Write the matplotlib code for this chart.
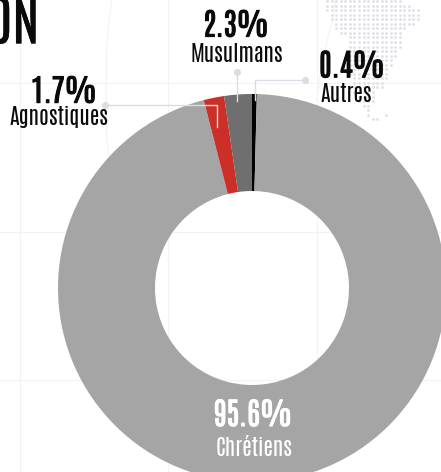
import matplotlib
matplotlib.use("Agg")
import matplotlib.pyplot as plt
import matplotlib.patheffects as pe
import numpy as np

# parts de chaque religion, sens horaire depuis le haut
labels = ["Autres", "Chrétiens", "Agnostiques", "Musulmans"]
values = [0.4, 95.6, 1.7, 2.3]
colors = ["#000000", "#a5a5a5", "#cc2e28", "#6f6f6f"]
pct_text = ["0.4%", "95.6%", "1.7%", "2.3%"]

# carte en points: (premiere colonne, derniere colonne) pour chaque rangee
map_rows = [(0, 16), (0, 18), (0, 20), (1, 20), (1, 20), (2, 19), (2, 17), (3, 16),
            (5, 16), (5, 16), (5, 16), (5, 15), (5, 15), (5, 14), (5, 14), (5, 13),
            (5, 13), (6, 13), (6, 12), (6, 12), (6, 10), (7, 10), (7, 10), (8, 9),
            (9, 9), (9, 9), (10, 11)]
map_extra = [(25, 13)]

FONT = ["Antonio", "Liberation Sans Narrow", "DejaVu Sans"]
LINE = "#dcdce4"
FAINT = "#f3f3f6"

fig = plt.figure(figsize=(4.41, 4.72), dpi=100)
ax = fig.add_axes([0, 0, 1, 1])

# grille du fond
for x in [19.5, 168, 317]:
    ax.plot([x, x], [0, 472], color=FAINT, lw=0.8, zorder=0)
for y in [83, 232, 380]:
    ax.plot([0, 441], [y, y], color=FAINT, lw=0.8, zorder=0)
ax.plot([112, 108.5, 106.7, 106, 106.5, 110], [0, 25, 50, 100, 135, 167], color=FAINT, lw=0.8, zorder=0)
ax.plot([336, 333, 325, 320, 317], [0, 17, 50, 77, 100], color=FAINT, lw=0.8, zorder=0)

# points de la carte
dots_x = []
dots_y = []
for i, (a, b) in enumerate(map_rows):
    for k in range(a, b + 1):
        dots_x.append(327.3 + 4.53 * k)
        dots_y.append(1 + 4.55 * i)
for i, k in map_extra:
    dots_x.append(327.3 + 4.53 * k)
    dots_y.append(1 + 4.55 * i)
ax.scatter(dots_x, dots_y, s=4.2, color="#e0e0e7", linewidths=0, zorder=1)

# axe y inverse: 270 + sens direct donne le sens horaire a l'ecran
ax.pie(values, colors=colors, center=(252, 288), radius=194, startangle=270,
       counterclock=True, wedgeprops=dict(width=97, zorder=2))
ax.set_xlim(0, 441)
ax.set_ylim(472, 0)
ax.axis("off")

# traits de rappel
ax.plot([104.5, 216.5, 216.5], [105, 105, 127], color=LINE, lw=1.0, zorder=3)
ax.plot([236.7, 236.7], [72, 101], color=LINE, lw=1.0, zorder=3)
ax.plot([305, 255, 255], [79.5, 79.5, 100], color=LINE, lw=1.0, zorder=3)
ax.scatter([104.5, 236.7, 305], [105, 72, 79.5], s=26, color=LINE, linewidths=0, zorder=3)


def thick(color, w):
    # la police installee est trop fine, on epaissit avec un contour
    return [pe.withStroke(linewidth=w, foreground=color)]


# titre coupe
ax.text(39, 43.3, "ON", family=FONT, fontsize=39, ha="right", va="baseline", color="#0a0a0a", zorder=4,
        path_effects=thick("#0a0a0a", 0.3))

pct_pos = [(352, 77.3), (253, 426), (64, 102.7), (236, 36.6)]
lab_pos = [(346, 102), (254, 456), (59, 125.5), (236.7, 61.7)]
for i in range(4):
    c = "white" if labels[i] == "Chrétiens" else "#0a0a0a"
    ax.text(pct_pos[i][0], pct_pos[i][1], pct_text[i], family=FONT, fontsize=22,
            ha="center", va="baseline", color=c, zorder=4, path_effects=thick(c, 0.75))
    ax.text(lab_pos[i][0], lab_pos[i][1], labels[i], family=FONT, fontsize=15.8,
            ha="center", va="baseline", color=c, zorder=4)

fig.savefig("out.png", dpi=100)
